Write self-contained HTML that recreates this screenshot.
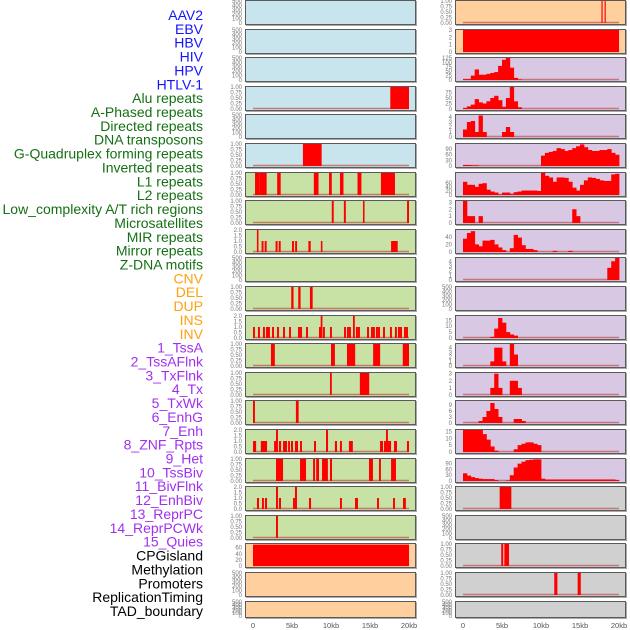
<!DOCTYPE html>
<html><head><meta charset="utf-8"><style>
html,body{margin:0;padding:0;background:#fff;}
svg{display:block;font-family:"Liberation Sans",sans-serif;}
</style></head><body>
<svg id="chart" width="630" height="630" viewBox="0 0 630 630" xmlns="http://www.w3.org/2000/svg"></svg>
<script>
// ---------- labels ----------
const trackLabels = ["AAV2","EBV","HBV","HIV","HPV","HTLV-1","Alu repeats","A-Phased repeats","Directed repeats","DNA transposons","G-Quadruplex forming repeats","Inverted repeats","L1 repeats","L2 repeats","Low_complexity A/T rich regions","Microsatellites","MIR repeats","Mirror repeats","Z-DNA motifs","CNV","DEL","DUP","INS","INV","1_TssA","2_TssAFlnk","3_TxFlnk","4_Tx","5_TxWk","6_EnhG","7_Enh","8_ZNF_Rpts","9_Het","10_TssBiv","11_BivFlnk","12_EnhBiv","13_ReprPC","14_ReprPCWk","15_Quies","CPGisland","Methylation","Promoters","ReplicationTiming","TAD_boundary"];
const labelGroupSizes = [6,13,5,15,5];
const labelGroupColors = ["#1414ff","#157015","#ffa010","#a030f0","#000000"];
const xTickValues = [0,5,10,15,20];
const xTickLabels = ["0","5kb","10kb","15kb","20kb"];

// ---------- tick sets ----------
const T500 = ["500","400","300","200","100","0"];
const T1 = ["1.00","0.75","0.50","0.25","0.00"];
const T2 = ["2.0","1.5","1.0","0.5","0.0"];

// ---------- left column data (segments: start kb, end kb, value) ----------
const L04_segs = [[17.6,20,1]];
const L06_segs = [[6.4,8.8,1]];
const L07_segs = [[0.26,0.8,1],[0.8,1.75,1],[3.1,3.55,1],[7.8,8.4,1],[9.75,10.1,1],[11.15,11.6,1],[13.4,13.9,1],[16.4,18.2,1]];
const L08_segs = [[10.1,10.35,1],[11.65,11.9,1],[14.1,14.3,1],[19.75,20,1]];
const L09_segs = [[0.5,0.7,2],[1.1,1.35,1],[1.5,1.75,1],[2.9,3.15,1],[3.3,3.55,1],[5.0,5.25,1],[5.4,5.65,1],[7.1,7.4,1],[8.7,8.9,1],[17.7,18.55,1]];
const L11_segs = [[4.9,5.2,1],[5.8,6.1,1],[7.3,7.65,1]];
const L12_segs = [[0,0.25,1],[0.64,0.89,1],[1.28,1.53,1],[1.67,1.92,1],[1.92,2.17,1],[2.44,2.69,1],[3.08,3.33,1],[3.85,4.1,1],[4.62,4.87,1],[5.77,6.02,1],[6.03,6.28,1],[6.8,7.05,1],[8.46,8.71,1],[8.68,8.9,2],[8.97,9.22,1],[9.87,10.12,1],[11.67,11.92,1],[12.05,12.3,1],[12.31,12.56,1],[12.82,13.05,2],[13.2,13.45,1],[13.46,13.71,1],[14.62,14.87,1],[15.13,15.38,1],[15.38,15.63,1],[15.77,16.02,1],[16.03,16.28,1],[16.67,16.92,1],[17.56,17.81,1],[18.2,18.45,1],[18.59,18.84,1],[18.85,19.1,1],[19.36,19.61,1],[19.62,19.87,1]];
const L13_segs = [[2.3,2.8,1],[10,10.5,1],[12.05,13.1,1],[15.4,16.3,1],[19.2,20,1]];
const L14_segs = [[9.87,10.1,1],[13.7,14.9,1]];
const L15_segs = [[0,0.25,1],[5.5,5.85,1]];
const L16_segs = [[0,0.4,1],[1.0,1.8,1],[2.7,2.95,1],[2.95,3.2,2],[3.33,3.6,1],[3.85,4.36,1],[4.5,4.74,1],[4.87,5.13,1],[5.38,5.77,1],[6.03,6.28,1],[7.82,8.08,1],[9.36,9.62,2],[10.5,10.77,1],[11.15,11.4,1],[12.3,12.8,1],[16.28,16.67,1],[16.8,17.05,1],[17.05,17.3,2],[17.3,17.7,1],[18.08,18.46,1],[19.74,20,1]];
const L17_segs = [[2.95,3.85,1],[6.03,6.8,1],[7.7,7.95,1],[8.1,8.46,1],[8.85,9.6,1],[9.87,10.13,1],[14.87,15.38,1],[16.15,16.4,1],[17.7,18.33,1]];
const L18_segs = [[0.51,0.77,1],[1.15,1.4,1],[1.54,1.8,1],[2.95,3.2,2],[3.33,3.59,1],[5.13,5.38,1],[5.38,5.64,2],[7.18,7.44,1],[11.15,11.4,1],[13.08,13.46,1],[15.9,16.15,1],[17.95,18.2,1],[19.23,19.6,1]];
const L19_segs = [[2.95,3.2,1]];
const L20_segs = [[0,20,70]];

// ---------- right column data (bins of 0.5 kb, 40 bins) ----------
const R01_segs = [[17.75,17.9,1],[18.15,18.3,1]];
const R02_segs = [[0,20,3]];
const R03_bins = [5,5,25,60,30,30,35,40,45,80,115,125,70,12,3,0,0,0,0,0,0,0,0,0,0,0,0,0,0,0,0,0,0,0,0,0,0,0,0,0];
const R04_bins = [5,12,20,45,30,25,35,50,60,40,10,50,100,35,8,0,0,0,0,0,0,0,0,0,0,0,0,0,0,0,0,0,0,0,0,0,0,0,0,0];
const R05_bins = [1.5,3,3.2,1,4.3,1,0,0,0,0,1,2,1,0,0,0,0,0,0,0,0,0,0,0,0,0,0,0,0,0,0,0,0,0,0,0,0,0,0,0];
const R06_bins = [5,5,3,3,0,0,0,0,0,0,0,0,0,0,0,0,0,0,0,0,55,70,75,80,95,90,80,85,95,105,115,100,85,80,80,85,85,90,70,60];
const R07_bins = [65,50,50,40,55,58,26,17,12,3,12,12,6,14,17,22,22,22,22,20,108,94,86,65,86,86,84,65,36,22,50,72,86,84,79,72,69,69,101,104];
const R08_bins = [3.2,1,1,0,1,0,0,0,0,0,0,0,0,0,0,0,0,0,0,0,0,0,0,0,0,0,0,0,2,1,0,0,0,0,0,0,0,0,0,0];
const R09_bins = [35,50,55,20,15,30,30,32,20,12,5,0,10,45,38,18,8,8,5,0,0,0,0,3,0,0,0,3,0,0,0,0,0,0,0,0,0,0,0,0];
const R10_bins = [0,0,0,0,0,0,0,0,0,0,0,0,0,0,0,0,0,0,0,0,0,0,0,0,0,0,0,0,0,0,0,0,0,0,0,0,0,2.6,4,4.7];
const R12_bins = [0,0,0,0,0,0,0,1,8,17,13,5,3,2,0,0,0,0,0,0,0,0,0,0,0,0,0,0,0,0,0,0,0,0,0,0,0,0,0,0];
const R13_bins = [0,0,0,0,0,0,0,1,4,4,1,0,4.8,2.5,0,0,0,0,0,0,0,0,0,0,0,0,0,0,0,0,0,0,0,0,0,0,0,0,0,0];
const R14_bins = [0,0,0,0,0,0,0,1,3,1,0,0,2,2,1,0,0,0,0,0,0,0,0,0,0,0,0,0,0,0,0,0,0,0,0,0,0,0,0,0];
const R15_bins = [0,0,0,0,1,3,6,10,7,3,0,0,0,2,2,1,0,0,0,0,0,0,0,0,0,0,0,0,0,0,0,0,0,0,0,0,0,0,0,0];
const R16_bins = [16,16,16,16,16,13,9,4,1,0,0,0,0,2,5,6,7,7,6,5,0,0,0,0,0,0,0,0,0,0,0,0,0,0,0,0,0,0,0,0];
const R17_bins = [40,28,20,15,12,10,10,10,5,0,0,3,30,70,90,100,108,110,112,112,12,8,8,8,8,8,8,8,8,8,8,8,8,8,8,8,8,8,8,5];
const R18_segs = [[4.7,6.2,1]];
const R20_segs = [[4.9,5.15,1],[5.3,5.9,1]];
const R21_segs = [[11.7,12.1,1],[14.7,15.1,1]];

const BG = {blue:"#c8e4ec", green:"#c8e1a4", orange:"#ffd09e", purple:"#d8c8e4", gray:"#d0d0d0"};

// panel definitions: [column, row, bg, ticks, domainMax, segs, bins]
const leftPanels = [
 [0,0,"blue",T500,500,null,null],[0,1,"blue",T500,500,null,null],[0,2,"blue",T500,500,null,null],
 [0,3,"blue",T1,1,L04_segs,null],[0,4,"blue",T500,500,null,null],[0,5,"blue",T1,1,L06_segs,null],
 [0,6,"green",T1,1,L07_segs,null],[0,7,"green",T1,1,L08_segs,null],[0,8,"green",T2,2,L09_segs,null],
 [0,9,"green",T500,500,null,null],[0,10,"green",T1,1,L11_segs,null],[0,11,"green",T2,2,L12_segs,null],
 [0,12,"green",T1,1,L13_segs,null],[0,13,"green",T1,1,L14_segs,null],[0,14,"green",T1,1,L15_segs,null],
 [0,15,"green",T2,2,L16_segs,null],[0,16,"green",T1,1,L17_segs,null],[0,17,"green",T2,2,L18_segs,null],
 [0,18,"green",T1,1,L19_segs,null],[0,19,"orange",["60","40","20","0"],72,L20_segs,null],
 [0,20,"orange",T500,500,null,null],[0,21,"orange",T500,500,null,null]
];
const rightPanels = [
 [1,0,"orange",T1,1,R01_segs,null],[1,1,"orange",["3","2","1","0"],3,R02_segs,null],
 [1,2,"purple",["125","100","75","50","25","0"],125,null,R03_bins],[1,3,"purple",["75","50","25","0"],100,null,R04_bins],
 [1,4,"purple",["4","3","2","1","0"],4.4,null,R05_bins],[1,5,"purple",["90","60","30","0"],117,null,R06_bins],
 [1,6,"purple",["60","40","20","0"],108,null,R07_bins],[1,7,"purple",["3","2","1","0"],3.2,null,R08_bins],
 [1,8,"purple",["40","20","0"],58,null,R09_bins],[1,9,"purple",["4","3","2","1","0"],4.7,null,R10_bins],
 [1,10,"purple",T500,500,null,null],[1,11,"purple",["15","10","5","0"],18.7,null,R12_bins],
 [1,12,"purple",["4","3","2","1","0"],4.8,null,R13_bins],[1,13,"purple",["3","2","1","0"],3.1,null,R14_bins],
 [1,14,"purple",["9","6","3","0"],11,null,R15_bins],[1,15,"purple",["15","10","5","0"],16,null,R16_bins],
 [1,16,"purple",["90","60","30","0"],114,null,R17_bins],[1,17,"gray",T1,1,R18_segs,null],
 [1,18,"gray",T500,500,null,null],[1,19,"gray",T1,1,R20_segs,null],
 [1,20,"gray",T1,1,R21_segs,null],[1,21,"gray",T500,500,null,null]
];

const NS = "http://www.w3.org/2000/svg";
const svg = document.getElementById("chart");
function mk(tag, attrs, parent){ const e=document.createElementNS(NS,tag); for(const k in attrs) e.setAttribute(k,attrs[k]); (parent||svg).appendChild(e); return e; }

// axis functions
const colLeft = [245,455], panelW = 171;
const xZero = [253,463], pxPerKb = 7.8;
function xScale(col, kb){ return xZero[col] + kb*pxPerKb; }
function rowTop(r){ return Math.round(r*28.6); }
function rowH(r){ return r===21 ? 17 : 25; }
function yScale(r, v, dmax){ const t=rowTop(r)+1, b=rowTop(r)+rowH(r)-2; return b - (v/dmax)*(b-t); }

// labels
let li = 0;
labelGroupSizes.forEach((n,g)=>{
  for(let k=0;k<n;k++){
    const t = mk("text",{x:203,y:15+li*13.86+5,"text-anchor":"end","font-size":"14",fill:labelGroupColors[g]});
    t.textContent = trackLabels[li];
    
    
    li++;
  }
});

function drawPanel(p){
  const [col,row,bg,ticks,dmax,segs,bins] = p;
  const g = mk("g",{});
  
  
  const top=rowTop(row), h=rowH(row), x0=colLeft[col];
  mk("rect",{x:x0+1,y:top+1,width:panelW,height:h,fill:"#aaa"},g);
  mk("rect",{x:x0+0.5,y:top+0.5,width:panelW-1,height:h-1,fill:BG[bg],stroke:"#5a5a5a","stroke-width":1},g);
  ticks.forEach(s=>{
    const v=parseFloat(s);
    const t=mk("text",{x:x0-3,y:yScale(row,v,dmax)+2,"text-anchor":"end","font-size":"6",fill:"#777"},g);
    t.textContent=s;
    
    
  });
  let all = [];
  if(segs) all = segs;
  if(bins) all = bins.map((v,i)=>[i*0.5,i*0.5+0.5,v]);
  if(segs || bins){
    const bl = mk("line",{x1:xScale(col,0),x2:xScale(col,20),y1:yScale(row,0,dmax)-0.5,y2:yScale(row,0,dmax)-0.5,stroke:"#c05050","stroke-opacity":0.7,"stroke-width":1.5},g);
    
    
  }
  const pad = bins ? 0.4 : 0;
  all.forEach(s=>{
    if(s[2]<=0) return;
    const xa=xScale(col,s[0]), xb=xScale(col,s[1]);
    const ya=yScale(row,s[2],dmax), yb=yScale(row,0,dmax);
    const r=mk("rect",{x:xa,y:ya,width:Math.max(1,xb-xa+pad),height:yb-ya,fill:"#ff0000"},g);
    
    
  });
}
leftPanels.forEach(drawPanel);
rightPanels.forEach(drawPanel);

// x axes
[0,1].forEach(col=>{
  xTickValues.forEach((v,i)=>{
    const t=mk("text",{x:xScale(col,v),y:628,"text-anchor":"middle","font-size":"7.5",fill:"#555"});
    t.textContent=xTickLabels[i];
    
    
  });
});
</script>
</body></html>
